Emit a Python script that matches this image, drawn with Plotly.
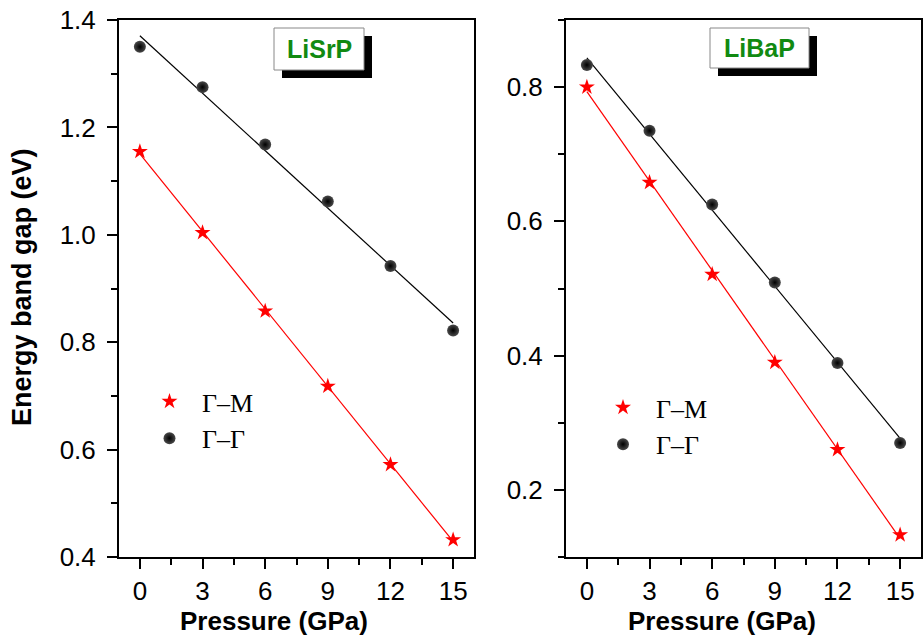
import numpy as np
import plotly.graph_objects as go

# Pressure points (GPa)
pressure = [0, 3, 6, 9, 12, 15]

# LiSrP band gaps (eV)
lisrp_gm = [1.155, 1.004, 0.858, 0.718, 0.572, 0.432]
lisrp_gg = [1.350, 1.275, 1.168, 1.062, 0.942, 0.822]

# LiBaP band gaps (eV)
libap_gm = [0.800, 0.658, 0.521, 0.390, 0.260, 0.133]
libap_gg = [0.833, 0.735, 0.625, 0.509, 0.389, 0.270]

labels = ["Γ–M", "Γ–Γ"]
materials = ["LiSrP", "LiBaP"]

W, H = 923, 640
SANS = "Liberation Sans, Arial, sans-serif"
SERIF = "Liberation Serif, Times New Roman, serif"

fig = go.Figure()


def add_panel(xa, ya, gm, gg, legend_name):
    x = np.array(pressure, dtype=float)
    for y, color in ((gm, "red"), (gg, "black")):
        k, b = np.polyfit(x, np.array(y), 1)
        xf = np.array([x.min(), x.max()])
        fig.add_trace(go.Scatter(
            x=xf, y=k * xf + b, mode="lines",
            line=dict(color=color, width=1.2),
            xaxis=xa, yaxis=ya, showlegend=False, hoverinfo="skip"))
    fig.add_trace(go.Scatter(
        x=pressure, y=gm, mode="markers", name=labels[0],
        marker=dict(symbol="star", size=12, color="red", line=dict(width=0)),
        xaxis=xa, yaxis=ya, legend=legend_name))
    fig.add_trace(go.Scatter(
        x=pressure, y=gg, mode="markers", name=labels[1],
        marker=dict(symbol="circle", size=12, color="#4a4a4a",
                    gradient=dict(type="radial", color="black"),
                    line=dict(width=0)),
        xaxis=xa, yaxis=ya, legend=legend_name))


add_panel("x", "y", lisrp_gm, lisrp_gg, "legend")
add_panel("x2", "y2", libap_gm, libap_gg, "legend2")

xaxis_style = dict(
    range=[-1, 16], tick0=0, dtick=3, ticks="outside", ticklen=10, tickwidth=2,
    tickcolor="black", showline=True, mirror=True, linewidth=2, linecolor="black",
    showgrid=False, zeroline=False, automargin=False,
    minor=dict(ticks="outside", ticklen=6, tickwidth=2, tickcolor="black", dtick=1.5, tick0=0),
    tickfont=dict(family=SANS, size=26, color="black"),
)
yaxis_style = dict(
    ticks="outside", ticklen=10, tickwidth=2, tickcolor="black",
    showline=True, mirror=True, linewidth=2, linecolor="black",
    showgrid=False, zeroline=False, automargin=False, tickformat=".1f",
    ticklabelstandoff=6,
    tickfont=dict(family=SANS, size=26, color="black"),
)

y_dom = [1 - 557 / H, 1 - 20 / H]
fig.update_layout(
    width=W, height=H, margin=dict(l=0, r=0, t=0, b=0),
    paper_bgcolor="white", plot_bgcolor="white",
    xaxis=dict(domain=[119 / W, 474 / W], anchor="y", **xaxis_style),
    xaxis2=dict(domain=[566 / W, 921 / W], anchor="y2", **xaxis_style),
    yaxis=dict(domain=y_dom, anchor="x", range=[0.4, 1.4], tick0=0.4, dtick=0.2,
               minor=dict(ticks="outside", ticklen=6, tickwidth=2, tickcolor="black", dtick=0.1),
               **yaxis_style),
    yaxis2=dict(domain=y_dom, anchor="x2", range=[0.1, 0.9], tick0=0.2, dtick=0.2,
                minor=dict(ticks="outside", ticklen=6, tickwidth=2, tickcolor="black", dtick=0.1),
                **yaxis_style),
    legend=dict(x=137 / W, y=1 - 378 / H, xanchor="left", yanchor="top",
                bgcolor="rgba(0,0,0,0)", itemwidth=55,
                font=dict(family=SERIF, size=26, color="black")),
    legend2=dict(x=590 / W, y=1 - 384 / H, xanchor="left", yanchor="top",
                 bgcolor="rgba(0,0,0,0)", itemwidth=56,
                 font=dict(family=SERIF, size=26, color="black")),
)

# Axis titles
title_font = dict(family=SANS, size=26, color="black", weight="bold")
for xc in (274, 722):
    fig.add_annotation(xref="paper", yref="paper", x=xc / W, y=1 - 621 / H,
                       text="Pressure (GPa)", showarrow=False,
                       xanchor="center", yanchor="middle", font=title_font)
fig.add_annotation(xref="paper", yref="paper", x=22 / W, y=1 - 287 / H,
                   text="Energy band gap (eV)", showarrow=False, textangle=-90,
                   xanchor="center", yanchor="middle",
                   font=dict(family=SANS, size=27, color="black", weight="bold"))

# Material name boxes with drop shadow
boxes = [(274, 28, 364, 70), (710, 28, 809, 68)]
for name, (x0, y0, x1, y1) in zip(materials, boxes):
    fig.add_shape(type="rect", xref="paper", yref="paper",
                  x0=(x0 + 8) / W, x1=(x1 + 8) / W, y0=1 - (y1 + 8) / H, y1=1 - (y0 + 8) / H,
                  fillcolor="black", line=dict(width=0), layer="above")
    fig.add_shape(type="rect", xref="paper", yref="paper",
                  x0=x0 / W, x1=x1 / W, y0=1 - y1 / H, y1=1 - y0 / H,
                  fillcolor="white", line=dict(color="#888888", width=1), layer="above")
    fig.add_annotation(xref="paper", yref="paper", x=(x0 + x1) / 2 / W, y=1 - (y0 + y1) / 2 / H,
                       text=f"<b>{name}</b>", showarrow=False, xanchor="center", yanchor="middle",
                       font=dict(family=SANS, size=25, color="#118a11"))

fig.write_html("out.html")
